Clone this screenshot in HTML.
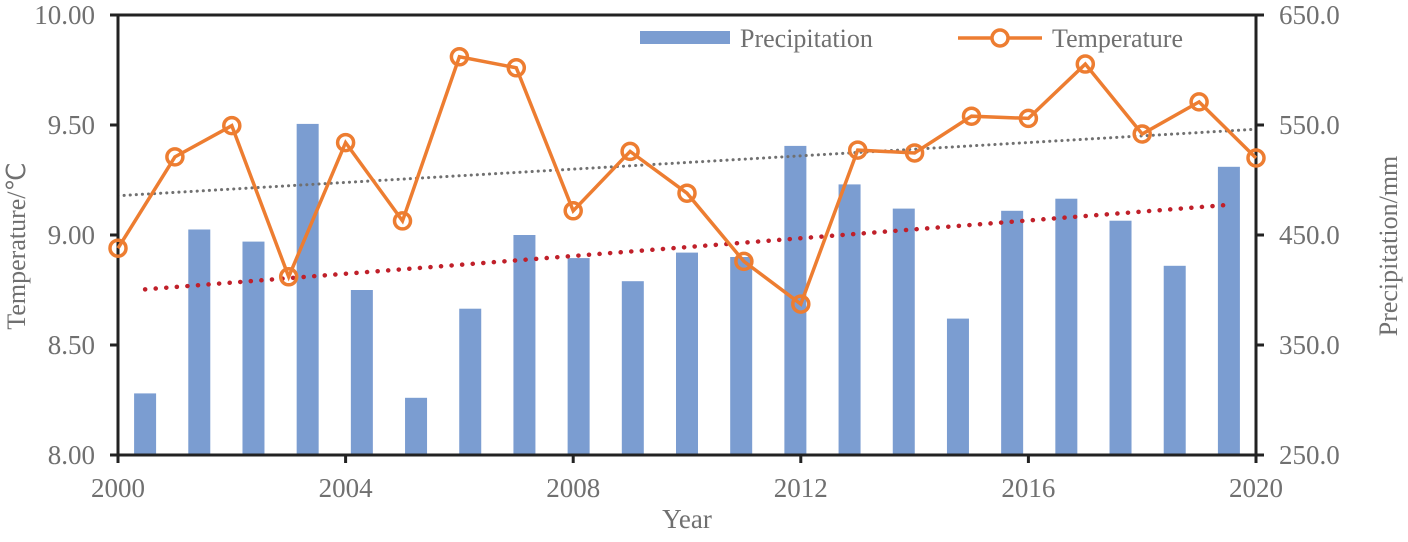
<!DOCTYPE html>
<html><head><meta charset="utf-8"><style>
body{margin:0;background:#fff;}
svg text{font-family:"Liberation Serif",serif;fill:#707070;}
</style></head><body>
<svg id="chart" width="1408" height="537">
<g id="g"></g>
</svg>
<script>
const years=[2000,2001,2002,2003,2004,2005,2006,2007,2008,2009,2010,2011,2012,2013,2014,2015,2016,2017,2018,2019,2020];
const precip=[306,455,444,551,400,302,383,450,429,408,434,430,531,496,474,374,472,483,463,422,512];
const temp=[8.94,9.355,9.497,8.81,9.42,9.064,9.81,9.76,9.11,9.38,9.19,8.88,8.686,9.386,9.373,9.54,9.53,9.777,9.459,9.605,9.35];
const xTicks=[2000,2004,2008,2012,2016,2020];
const yLeftTicks=[8.00,8.50,9.00,9.50,10.00];
const yRightTicks=[250,350,450,550,650];
const L=118,R=1256,T=15,B=455;
const xT=y=>L+(y-2000)/20*(R-L);
const xBar=i=>L+(i+0.5)*(R-L)/21;
const yT=v=>B-(v-8)/2*(B-T);
const yP=v=>B-(v-250)/400*(B-T);
const NS="http://www.w3.org/2000/svg";
const g=document.getElementById('g');
function mk(t,a,p){const e=document.createElementNS(NS,t);for(const k in a)e.setAttribute(k,a[k]);(p||g).appendChild(e);return e;}
precip.forEach((v,i)=>{const x=xBar(i);const e=mk('rect',{x:x-11,y:yP(v),width:22,height:B-yP(v),fill:'#7b9dd1'});

});
function fit(xs,ys){const n=xs.length;const mx=xs.reduce((a,b)=>a+b)/n,my=ys.reduce((a,b)=>a+b)/n;let sxy=0,sxx=0;xs.forEach((x,i)=>{sxy+=(x-mx)*(ys[i]-my);sxx+=(x-mx)**2;});const b=sxy/sxx;return[my-b*mx,b];}
const idx=years.map((_,i)=>i);
const pf=fit(idx,precip);
let e=mk('line',{x1:xBar(0),y1:yP(pf[0]),x2:xBar(20),y2:yP(pf[0]+pf[1]*20),stroke:'#c0202a','stroke-width':4.5,'stroke-dasharray':'0.1 10.5','stroke-linecap':'round'});


const tf=fit(years,temp);
e=mk('line',{x1:xT(2000),y1:yT(tf[0]+tf[1]*2000),x2:xT(2020),y2:yT(tf[0]+tf[1]*2020),stroke:'#707070','stroke-width':3,'stroke-dasharray':'0.1 6','stroke-linecap':'round'});


e=mk('path',{d:`M${L},${T}V${B}H${R}V${T}Z`,fill:'none',stroke:'#222','stroke-width':3});


yLeftTicks.forEach(v=>{mk('line',{x1:L-8,x2:L,y1:yT(v),y2:yT(v),stroke:'#222','stroke-width':3});
const t=mk('text',{x:L-23,y:yT(v)+9,'text-anchor':'end','font-size':27});t.textContent=v.toFixed(2);

});
yRightTicks.forEach(v=>{mk('line',{x1:R,x2:R+8,y1:yP(v),y2:yP(v),stroke:'#222','stroke-width':3});
const t=mk('text',{x:R+23,y:yP(v)+9,'font-size':27});t.textContent=v.toFixed(1);

});
xTicks.forEach(v=>{mk('line',{x1:xT(v),x2:xT(v),y1:B,y2:B+8,stroke:'#222','stroke-width':3});
const t=mk('text',{x:xT(v),y:B+42,'text-anchor':'middle','font-size':27});t.textContent=v;

});
e=mk('polyline',{points:temp.map((v,i)=>xT(years[i])+','+yT(v)).join(' '),fill:'none',stroke:'#ed7d31','stroke-width':3.5});


temp.forEach((v,i)=>{const c=mk('circle',{cx:xT(years[i]),cy:yT(v),r:8,fill:'none',stroke:'#ed7d31','stroke-width':3.5});

});
let t=mk('text',{x:687,y:528,'text-anchor':'middle','font-size':27});t.textContent='Year';


t=mk('text',{transform:'translate(25,246) rotate(-90)','text-anchor':'middle','font-size':26});t.textContent='Temperature/℃';


t=mk('text',{transform:'translate(1397,246) rotate(-90)','text-anchor':'middle','font-size':26});t.textContent='Precipitation/mm';


e=mk('rect',{x:640,y:31,width:90,height:13,fill:'#7b9dd1'});


t=mk('text',{x:740,y:47,'font-size':26});t.textContent='Precipitation';


e=mk('line',{x1:958,x2:1042,y1:38,y2:38,stroke:'#ed7d31','stroke-width':3.5});


mk('circle',{cx:1000,cy:38,r:8,fill:'#fff',stroke:'#ed7d31','stroke-width':3.5});
t=mk('text',{x:1052,y:47,'font-size':26});t.textContent='Temperature';


</script>
</body></html>
